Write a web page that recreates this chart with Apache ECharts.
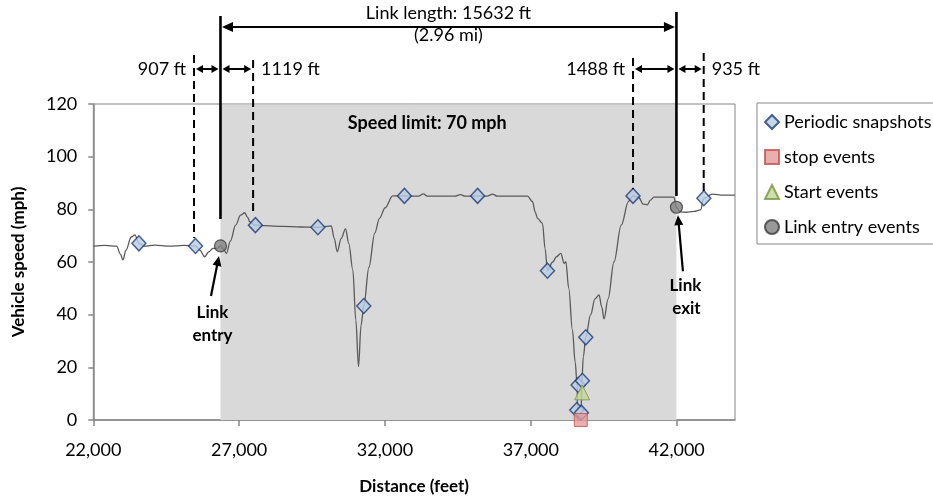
<!DOCTYPE html>
<html>
<head>
<meta charset="utf-8">
<script src="https://cdn.jsdelivr.net/npm/echarts@6/dist/echarts.min.js"></script>
<style>
  html, body { margin: 0; padding: 0; background: #ffffff; }
  #chart { width: 933px; height: 501px; }
</style>
</head>
<body>
<div id="chart"></div>
<script>
// Continuous speed trace: distance along the corridor (ft) and speed (mph)
const distanceFt = [
  22000, 22400, 22800, 22930, 23016, 23120, 23300, 23427, 23564, 23750,
  24100, 24600, 25100, 25504, 25650, 25822, 25950, 26106, 26250, 26360,
  26480, 26565, 26700, 26880, 27050, 27191, 27290, 27362, 27557, 27900,
  28500, 29100, 29700, 30000, 30158, 30260, 30363, 30500, 30647, 30760,
  30897, 31000, 31092, 31180, 31273, 31450, 31650, 31811, 32000, 32266,
  32666, 33150, 33316, 33450, 34400, 34583, 34750, 35175, 35500, 35688,
  35850, 36886, 37057, 37150, 37228, 37399, 37490, 37570, 37750, 37880,
  38029, 38142, 38200, 38300, 38426, 38520, 38590, 38600, 38610, 38720,
  38728, 38745, 38800, 38884, 39050, 39200, 39339, 39430, 39510, 39650,
  39850, 40100, 40350, 40503, 40700, 40850, 40992, 41100, 41221, 41600,
  41906, 41992, 42120, 42306, 42600, 42819, 42932, 43216, 43600, 44000
];
const speedMph = [
  66, 66.3, 66, 63, 60.8, 64.5, 69.5, 70.3, 67.1, 66,
  66.4, 66, 66.3, 66.1, 64.5, 62, 63.8, 65.2, 65.2, 66.1,
  64.5, 63.3, 68, 74, 77.8, 78.7, 77, 75.3, 74, 73.8,
  73.5, 73.3, 73.2, 73.5, 73.7, 69, 63.9, 69, 72.6, 67,
  57, 38, 20.3, 36, 43.3, 58, 71, 76.6, 80.5, 85.1,
  85.1, 85, 85.9, 85, 85, 85.6, 85, 85.1, 85, 85.8,
  85, 85, 82.9, 79, 76.6, 74.7, 65, 56.7, 60, 62,
  63.3, 59.5, 60.1, 50, 34.2, 22, 13, 4, 0, 0,
  3, 14, 24, 31.4, 40, 46, 47.5, 43, 38.4, 46,
  60, 74, 83, 85.1, 84.5, 82, 81.7, 83.5, 84.6, 84.6,
  84.6, 80.8, 79, 78.9, 79.2, 79.8, 84.2, 85.8, 85.4, 85.4
];

// Periodic snapshot records
const snapshotFt  = [23564, 25504, 27557, 29700, 31273, 32666, 35175, 37570, 38576, 38621, 38733, 38768, 38884, 40503, 42932];
const snapshotMph = [67.1, 66.1, 74, 73.2, 43.3, 85.1, 85.1, 56.7, 3.8, 13.3, 2.8, 14.9, 31.4, 85.1, 84.2];

// Stop / start events
const stopFt = [38713];
const stopMph = [0];
const startFt = [38760];
const startMph = [10.5];

// Link entry / exit records
const linkEntryFt = 26360;
const linkLengthFt = 15632;
const linkExitFt = linkEntryFt + linkLengthFt;
const entryEventFt = [linkEntryFt, linkExitFt];
const entryEventMph = [66.1, 80.8];

// Buffer distances before / after the link boundaries
const beforeEntryFt = 907;
const afterEntryFt = 1119;
const beforeExitFt = 1488;
const afterExitFt = 935;

// Axes
const xMin = 22000, xMax = 44000, xStep = 5000;
const yMin = 0, yMax = 120, yStep = 20;

const pairs = (xs, ys) => xs.map((x, i) => [x, ys[i]]);

const FONT = 'Lato, "Open Sans", sans-serif';
const AXIS_GRAY = '#868686';

const chart = echarts.init(document.getElementById('chart'), null, { renderer: 'canvas' });

chart.setOption({
  animation: false,
  backgroundColor: '#ffffff',
  textStyle: { fontFamily: FONT, color: '#000' },
  grid: {
    left: 93.3, right: 198, top: 104, bottom: 81,
    show: true, borderColor: AXIS_GRAY, borderWidth: 1, backgroundColor: '#ffffff'
  },
  legend: {
    orient: 'vertical',
    left: 757, top: 103,
    padding: [9, 40, 7, 7],
    itemWidth: 14, itemHeight: 14, itemGap: 15,
    borderColor: AXIS_GRAY, borderWidth: 1,
    textStyle: { fontFamily: FONT, fontSize: 18, color: '#000', lineHeight: 20 },
    data: ['Periodic snapshots', 'stop events', 'Start events', 'Link entry events']
  },
  xAxis: {
    type: 'value', min: xMin, max: xMax, interval: xStep,
    name: 'Distance (feet)', nameLocation: 'middle', nameGap: 58,
    nameTextStyle: { fontFamily: FONT, fontSize: 17, fontWeight: 'bold', color: '#000' },
    axisLine: { show: true, lineStyle: { color: AXIS_GRAY, width: 1.5 } },
    axisTick: { show: true, inside: false, length: 6, lineStyle: { color: AXIS_GRAY, width: 1.5 } },
    axisLabel: {
      fontFamily: FONT, fontSize: 18, color: '#000', margin: 21,
      showMaxLabel: false,
      formatter: v => (v === xMax ? '' : v.toLocaleString('en-US'))
    },
    splitLine: { show: false }
  },
  yAxis: {
    type: 'value', min: yMin, max: yMax, interval: yStep,
    name: 'Vehicle speed (mph)', nameLocation: 'middle', nameGap: 66, nameRotate: 90,
    nameTextStyle: { fontFamily: FONT, fontSize: 17, fontWeight: 'bold', color: '#000' },
    axisLine: { show: true, lineStyle: { color: AXIS_GRAY, width: 1.5 } },
    axisTick: { show: true, inside: false, length: 5, lineStyle: { color: AXIS_GRAY, width: 1.5 } },
    axisLabel: { fontFamily: FONT, fontSize: 18, color: '#000', margin: 16 },
    splitLine: { show: false }
  },
  series: [
    {
      name: 'Speed trace',
      type: 'line',
      data: pairs(distanceFt, speedMph),
      showSymbol: false,
      smooth: 0.35,
      smoothMonotone: 'x',
      lineStyle: { color: '#5a5a5a', width: 1.3 },
      z: 2,
      markArea: {
        silent: true,
        itemStyle: { color: '#d9d9d9' },
        data: [[{ xAxis: linkEntryFt, yAxis: yMin }, { xAxis: linkExitFt, yAxis: yMax - 0.3 }]]
      }
    },
    {
      name: 'Periodic snapshots',
      type: 'scatter',
      data: pairs(snapshotFt, snapshotMph),
      symbol: 'diamond', symbolSize: [14, 15],
      itemStyle: { color: '#b9cde5', borderColor: '#1f3b73', borderWidth: 1.5 },
      z: 5
    },
    {
      name: 'stop events',
      type: 'scatter',
      data: pairs(stopFt, stopMph),
      symbol: 'rect', symbolSize: 13,
      itemStyle: { color: '#e49b9a', borderColor: '#c0504d', borderWidth: 1 },
      z: 6
    },
    {
      name: 'Start events',
      type: 'scatter',
      data: pairs(startFt, startMph),
      symbol: 'triangle', symbolSize: 15,
      itemStyle: { color: '#c3d69b', borderColor: '#77933c', borderWidth: 1 },
      z: 7
    },
    {
      name: 'Link entry events',
      type: 'scatter',
      data: pairs(entryEventFt, entryEventMph),
      symbol: 'circle', symbolSize: 12,
      itemStyle: { color: '#808080', borderColor: '#3a3a3a', borderWidth: 1.2 },
      z: 8
    }
  ]
});

// ---- Annotations: link boundaries, buffer distances and callouts ----
const toPx = (x, y) => chart.convertToPixel({ gridIndex: 0 }, [x, y]);
const xPx = x => toPx(x, 0)[0];

const els = [];
function seg(x1, y1, x2, y2, width, dash) {
  els.push({ type: 'line', z: 100, silent: true,
    shape: { x1, y1, x2, y2 },
    style: { stroke: '#000', lineWidth: width, lineDash: dash || null } });
}
function head(tipX, tipY, fromX, fromY, len, half) {
  const dx = tipX - fromX, dy = tipY - fromY;
  const d = Math.hypot(dx, dy) || 1;
  const ux = dx / d, uy = dy / d;
  const bx = tipX - ux * len, by = tipY - uy * len;
  els.push({ type: 'polygon', z: 101, silent: true,
    shape: { points: [[tipX, tipY], [bx - uy * half, by + ux * half], [bx + uy * half, by - ux * half]] },
    style: { fill: '#000' } });
}
function arrow(x1, y1, x2, y2, width, len, half, both) {
  const dx = x2 - x1, dy = y2 - y1, d = Math.hypot(dx, dy) || 1;
  const ux = dx / d, uy = dy / d;
  seg(both ? x1 + ux * len * 0.8 : x1, both ? y1 + uy * len * 0.8 : y1,
      x2 - ux * len * 0.8, y2 - uy * len * 0.8, width);
  head(x2, y2, x1, y1, len, half);
  if (both) head(x1, y1, x2, y2, len, half);
}
function label(text, x, y, opts) {
  els.push({ type: 'text', z: 102, silent: true, x, y,
    style: Object.assign({ text, fill: '#000', fontFamily: FONT, fontSize: 18,
      align: 'center', verticalAlign: 'middle' }, opts || {}) });
}

const xEntry = xPx(linkEntryFt);
const xExit = xPx(linkExitFt);
const xBeforeEntry = xPx(linkEntryFt - beforeEntryFt);
const xAfterEntry = xPx(linkEntryFt + afterEntryFt);
const xBeforeExit = xPx(linkExitFt - beforeExitFt);
const xAfterExit = xPx(linkExitFt + afterExitFt);

// link boundary lines
seg(xEntry, 16, xEntry, 219, 2.6);
seg(xExit, 12, xExit, 196, 2.6);

// link length dimension
arrow(xEntry + 1.5, 27, xExit - 1.5, 27, 2, 11, 5, true);
label('Link length: ' + linkLengthFt + ' ft', (xEntry + xExit) / 2, 13);
label('(' + (linkLengthFt / 5280).toFixed(2) + ' mi)', (xEntry + xExit) / 2, 35);

// buffer limits (dashed)
const dash = [8, 5];
seg(xBeforeEntry, 55, xBeforeEntry, 238, 2, dash);
seg(xAfterEntry, 60, xAfterEntry, 214, 2, dash);
seg(xBeforeExit, 58, xBeforeExit, 189, 2, dash);
seg(xAfterExit, 53, xAfterExit, 192, 2, dash);

// buffer distance arrows
const yb = 69;
arrow(xBeforeEntry + 2, yb, xEntry - 2, yb, 2, 7, 4, true);
arrow(xEntry + 2, yb, xAfterEntry - 2, yb, 2, 7, 4, true);
arrow(xBeforeExit + 2, yb, xExit - 2, yb, 2, 7, 4, true);
arrow(xExit + 2, yb, xAfterExit - 2, yb, 2, 7, 4, true);
label(beforeEntryFt + ' ft', xBeforeEntry - 8, yb, { align: 'right' });
label(afterEntryFt + ' ft', xAfterEntry + 8, yb, { align: 'left' });
label(beforeExitFt + ' ft', xBeforeExit - 8, yb, { align: 'right' });
label(afterExitFt + ' ft', xAfterExit + 8, yb, { align: 'left' });

// speed limit note
label('Speed limit: 70 mph', xPx(33450), 123, { fontWeight: 'bold', fontSize: 18 });

// entry / exit callouts
const pEntry = toPx(entryEventFt[0], entryEventMph[0]);
const pExit = toPx(entryEventFt[1], entryEventMph[1]);
arrow(pEntry[0] - 9.5, pEntry[1] + 50, pEntry[0] - 1.5, pEntry[1] + 10, 2.2, 10, 4.5, false);
label('Link', pEntry[0] - 8, pEntry[1] + 67, { fontWeight: 'bold', fontSize: 17 });
label('entry', pEntry[0] - 8, pEntry[1] + 90, { fontWeight: 'bold', fontSize: 17 });
arrow(pExit[0] + 6.5, pExit[1] + 64, pExit[0] + 1.5, pExit[1] + 8, 2.2, 10, 4.5, false);
label('Link', pExit[0] + 9, pExit[1] + 78, { fontWeight: 'bold', fontSize: 17 });
label('exit', pExit[0] + 10, pExit[1] + 101, { fontWeight: 'bold', fontSize: 17 });

chart.setOption({ graphic: { elements: els } });
</script>
</body>
</html>
